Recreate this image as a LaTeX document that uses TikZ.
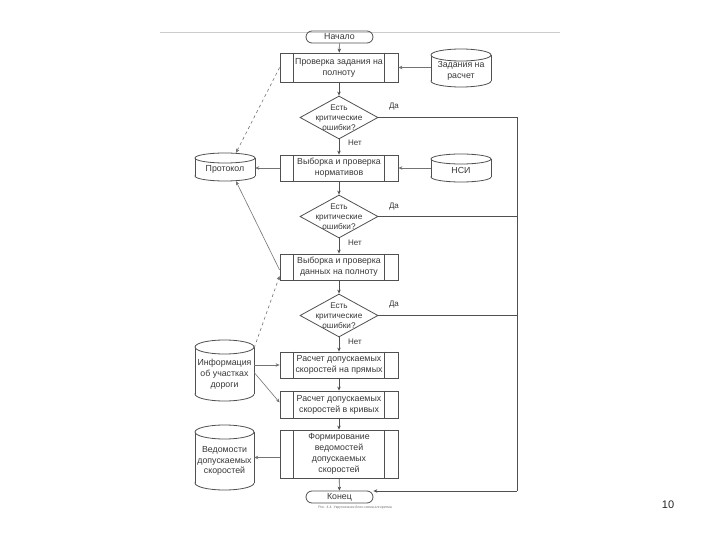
\documentclass[tikz,border=0pt]{standalone}
\usepackage{fontspec}
\setmainfont{Liberation Sans}
\usetikzlibrary{shapes.geometric,arrows.meta,calc}
\definecolor{ln}{HTML}{505050}
\definecolor{tx}{HTML}{383838}
\newcommand\dbcyl[7]{%
  \pgfmathsetmacro\cxx{(#2+#4)/2}%
  \pgfmathsetmacro\rxx{(#4-#2)/2}%
  \pgfmathsetmacro\ww{#4-#2}%
  \pgfmathsetmacro\hh{#5-#3}%
  \pgfmathsetmacro\cyy{(#3+#5)/2}%
  \pgfmathsetmacro\tyy{(#3+#5)/2+#6/2}%
  \draw[cylline] (\cxx,#5-#6) ellipse [x radius=\rxx, y radius=#6];
  \fill[white] (#2,#3+#6) rectangle (#4,#5-#6);
  \draw[cylline] (#2,#3+#6) -- (#2,#5-#6) (#4,#3+#6) -- (#4,#5-#6);
  \draw[cylline,fill=white] (\cxx,#3+#6) ellipse [x radius=\rxx, y radius=#6];
  \node[inner sep=0pt, minimum width=\ww pt, minimum height=\hh pt] (#1) at (\cxx,\cyy) {};
  \node[align=center] (#1t) at (\cxx,\tyy) {#7};
}
\begin{document}
\begin{tikzpicture}[x=1pt,y=-1pt, font=\fontsize{8.8}{10.8}\selectfont, text=tx,
  proc/.style={draw=ln, line width=0.8pt, minimum width=118pt, align=center, inner sep=0pt},
  dec/.style={diamond, draw=ln, line width=0.8pt, minimum width=78pt, minimum height=43pt, inner sep=0pt},
  term/.style={draw=ln, line width=0.8pt, rounded corners=6pt, minimum width=67pt, minimum height=12pt, inner sep=0pt},
  cylline/.style={draw=ln, line width=0.8pt},
  arr/.style={draw=ln, line width=0.7pt, -{Stealth[length=4pt,width=3.5pt]}},
  side/.style={draw=ln!80, line width=0.6pt, -{Stealth[length=4pt,width=3.5pt]}},
  loopline/.style={draw=ln, line width=1pt},
  lbl/.style={inner sep=0pt, font=\fontsize{8}{10}\selectfont}]
\useasboundingbox (0,0) rectangle (720,540);
\fill[white] (0,0) rectangle (720,540);

% top rule
\draw[black!20, line width=0.6pt] (160,32) -- (560,32);

% terminals
\node[term] (start) at (339.5,37) {Начало};
\node[term] (endn) at (339.5,497) {Конец};

% processes
\node[proc, minimum height=29pt] (p1) at (339,67.5) {Проверка задания на\\полноту};
\node[proc, minimum height=26pt] (p2) at (339,168) {Выборка и проверка\\нормативов};
\node[proc, minimum height=26pt] (p3) at (339,267) {Выборка и проверка\\данных на полноту};
\node[proc, minimum height=26pt] (p4) at (339,365) {Расчет допускаемых\\скоростей на прямых};
\node[proc, minimum height=27pt] (p5) at (339,404.5) {Расчет допускаемых\\скоростей в кривых};
\node[proc, minimum height=48pt] (p6) at (339,454) {Формирование\\ведомостей\\допускаемых\\скоростей};
\foreach \p in {p1,p2,p3,p4,p5,p6}{
  \draw[ln, line width=0.8pt] ([xshift=14pt]\p.north west) -- ([xshift=14pt]\p.south west);
  \draw[ln, line width=0.8pt] ([xshift=-14pt]\p.north east) -- ([xshift=-14pt]\p.south east);
}

% decisions
\node[dec] (d1) at (339,117.5) {};
\node[dec] (d2) at (339,216.5) {};
\node[dec] (d3) at (339,315.5) {};
\foreach \d in {d1,d2,d3}{
  \node[align=center, font=\fontsize{8.2}{10}\selectfont] at (\d) {Есть\\критические\\ошибки?};
}

% data stores
\dbcyl{zad}{431}{49}{491}{87}{6}{Задания на\\расчет}
\dbcyl{nsi}{431}{154}{491}{182}{5}{НСИ}
\dbcyl{prot}{195}{153}{255}{181}{5}{Протокол}
\dbcyl{info}{195}{340}{254}{401}{7}{Информация\\об участках\\дороги}
\dbcyl{ved}{195}{425}{254}{490}{7}{Ведомости\\допускаемых\\скоростей}

% main flow
\draw[arr] (start) -- (p1);
\draw[arr] (p1) -- (d1);
\draw[arr] (d1) -- (p2);
\draw[arr] (p2) -- (d2);
\draw[arr] (d2) -- (p3);
\draw[arr] (p3) -- (d3);
\draw[arr] (d3) -- (p4);
\draw[arr] (p4) -- (p5);
\draw[arr] (p5) -- (p6);
\draw[arr] (p6) -- (endn);

% labels
\node[lbl] at (355,143) {Нет};
\node[lbl] at (355,243) {Нет};
\node[lbl] at (355,342) {Нет};
\node[lbl] at (394,107) {Да};
\node[lbl] at (394,207) {Да};
\node[lbl] at (394,305) {Да};

% "yes" loop
\coordinate (r1) at (517,117.5);
\coordinate (r2) at (517,216.5);
\coordinate (r3) at (517,315.5);
\coordinate (rb) at (517,491);
\draw[loopline] (d1.east) -- (r1) -- (rb);
\draw[loopline] (d2.east) -- (r2);
\draw[loopline] (d3.east) -- (r3);
\draw[loopline, -{Stealth[length=4pt,width=3.5pt]}] (rb) -- (rb -| endn.east);

% data inputs / outputs
\draw[side] (zad.west |- p1.east) -- (p1.east);
\draw[side] (nsi.west |- p2.east) -- (p2.east);
\draw[side] (p2.west) -- (prot.east |- p2.west);
\draw[side, dashed] (p1.west) -- ([xshift=11pt]prot.north);
\draw[side] ([yshift=-3pt]p3.west) -- ([xshift=11pt]prot.south);
\draw[side, dashed] ([yshift=-8pt]info.north east) -- ([yshift=-9pt]p3.west);
\draw[side] (p4.west -| info.east) -- (p4.west);
\draw[side] ([yshift=-2pt]info.east) -- ([yshift=2pt]p5.west);
\draw[side] (ved.east -| p6.west) -- (ved.east);

% caption and page number
\node[font=\fontsize{3.5}{4}\selectfont, text=black!55] (cap) at (355,508) {Рис. 4.4. Укрупненная блок-схема алгоритма};
\node[font=\fontsize{11}{13}\selectfont, text=black!85] (pg) at (668,505) {10};
\end{tikzpicture}
\end{document}
